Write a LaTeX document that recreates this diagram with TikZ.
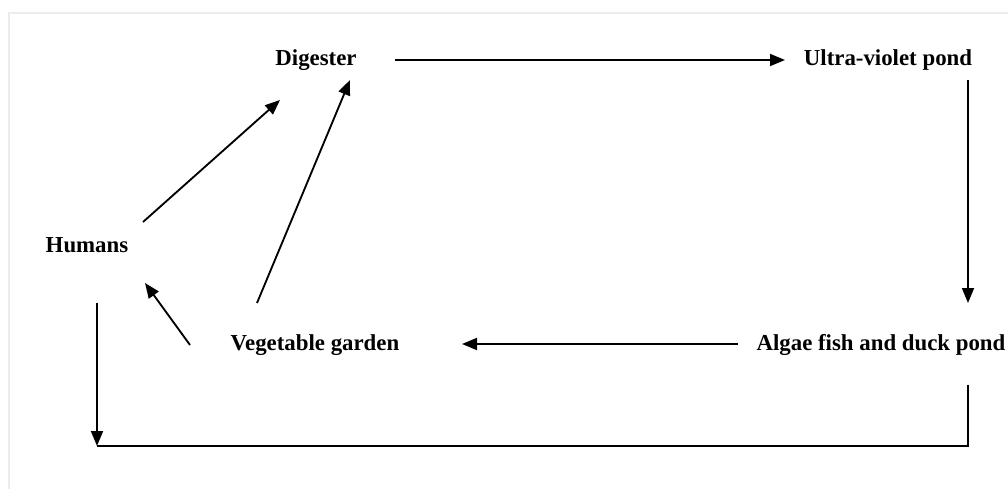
\documentclass[tikz,border=0pt]{standalone}
\usepackage{fontspec}
\setmainfont{Liberation Serif}
\usepackage{tikz}
\usetikzlibrary{positioning, arrows.meta, calc}

\begin{document}
\begin{tikzpicture}[x=0.02cm, y=-0.02cm,
    label/.style={font=\fontsize{13}{15}\selectfont\bfseries, inner sep=0pt},
    flow/.style={-{Triangle[length=0.3cm, width=0.24cm]}, line width=1.05pt},
    plain/.style={line width=1.05pt}]
      \useasboundingbox (0, 0) rectangle (1008, 489);
      \draw[gray!15, line width=0.6pt] (9, 489) -- (9, 13) -- (1008, 13);

      \node[label] (dig) at (316, 60) {Digester};
      \node[label] (uv) at (888, 60) {Ultra-violet pond};
      \node[label] (hum) at (87, 245) {Humans};
      \node[label] (veg) at (315, 345) {Vegetable garden};
      \node[label] (alg) at (881, 345) {Algae fish and duck pond};
      \coordinate (corner) at (97, 446);

      \draw[flow] ([shift={(79, 0)}]dig.center) -- ([shift={(-103, 0)}]uv.center);
      \draw[flow] ([shift={(80, 20)}]uv.center) -- ([shift={(87, -42)}]alg.center);
      \draw[flow] ([shift={(-143, -1)}]alg.center) -- ([shift={(147, -1)}]veg.center);
      \draw[flow] ([shift={(56, -23)}]hum.center) -- ([shift={(-36, 40)}]dig.center);
      \draw[flow] ([shift={(-58, -42)}]veg.center) -- ([shift={(34, 20)}]dig.center);
      \draw[flow] ([shift={(-125, 0)}]veg.center) -- ([shift={(58, 38)}]hum.center);
      \draw[plain] ([shift={(87, 40)}]alg.center) |- (corner);
      \draw[flow] ([shift={(10, 58)}]hum.center) -- (corner);
    \end{tikzpicture}
\end{document}
